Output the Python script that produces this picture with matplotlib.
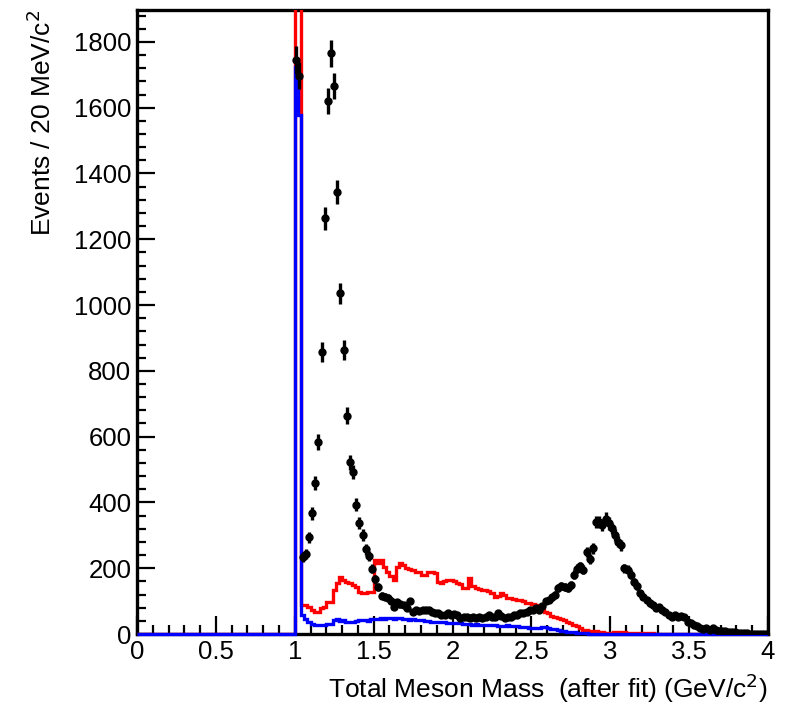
import numpy as np
import matplotlib
matplotlib.use("Agg")
import matplotlib.pyplot as plt

plt.rcParams['font.family'] = ['Liberation Sans', 'DejaVu Sans']

# bin edges: 20 MeV bins from 0 to 4 GeV
edges = np.round(np.arange(0, 4.0001, 0.02), 2)

# black data points, bin centres 1.01 .. 3.99
data_vals = [
    1745, 1697, 235, 243, 294, 367, 458, 585, 857, 1264,
    1621, 1765, 1666, 1344, 1036, 863, 663, 522, 493, 393,
    338, 301, 257, 237, 199, 166, 144, 116, 113, 110,
    101, 83, 97, 90, 88, 78, 100, 68, 72, 70,
    72, 72, 73, 68, 63, 63, 58, 58, 63, 58,
    60, 58, 48, 51, 53, 48, 53, 48, 53, 48,
    53, 58, 53, 53, 65, 55, 48, 53, 53, 58,
    58, 63, 63, 68, 72, 72, 78, 72, 85, 100,
    103, 112, 119, 139, 146, 144, 139, 150, 180, 198,
    206, 195, 250, 228, 260, 341, 341, 331, 351, 336,
    321, 301, 281, 270, 200, 195, 180, 159, 145, 124,
    114, 103, 93, 88, 80, 83, 73, 68, 58, 53,
    58, 53, 55, 53, 38, 33, 28, 23, 18, 15,
    18, 13, 18, 13, 8, 8, 8, 6, 5, 5,
    3, 3, 2, 2, 1, 1, 1, 0, 0, 0,
]
data_x = np.round(1.01 + 0.02 * np.arange(len(data_vals)), 2)

# red histogram, bins starting at 1.00 (zero below)
red_vals = [
    2400, 2400, 88, 88, 82, 72, 68, 68, 80, 83,
    98, 98, 134, 154, 174, 165, 159, 154, 150, 144,
    128, 124, 124, 129, 129, 225, 215, 225, 205, 190,
    176, 164, 204, 215, 210, 200, 198, 195, 190, 189,
    179, 180, 189, 190, 185, 159, 154, 160, 164, 164,
    160, 154, 152, 139, 140, 169, 145, 139, 138, 134,
    134, 132, 124, 113, 115, 124, 120, 108, 108, 106,
    103, 103, 100, 95, 93, 90, 88, 82, 73, 66,
    63, 55, 53, 48, 46, 43, 38, 33, 28, 23,
    18, 12, 12, 10, 8, 8, 6, 5, 4, 4,
    4, 5, 6, 6, 5, 4, 3, 3, 2, 2,
    3, 2, 2, 2, 1, 1, 1, 1, 1, 1,
]

# blue histogram, bins starting at 1.00 (zero below)
blue_vals = [
    1725, 1578, 58, 45, 37, 30, 27, 27, 27, 28,
    30, 30, 43, 45, 40, 43, 38, 37, 36, 40,
    42, 44, 43, 40, 45, 45, 47, 48, 46, 50,
    48, 45, 48, 50, 47, 45, 44, 46, 43, 42,
    44, 40, 40, 38, 38, 37, 36, 35, 34, 33,
    34, 33, 32, 30, 31, 29, 28, 29, 28, 27,
    26, 28, 27, 26, 24, 25, 24, 28, 25, 24,
    23, 22, 21, 20, 19, 18, 18, 17, 20, 22,
    18, 16, 14, 12, 10, 8, 7, 6, 5, 4,
    3, 2, 2, 1, 1, 1,
]

nbins = len(edges) - 1
red = np.zeros(nbins)
red[50:50 + len(red_vals)] = red_vals
blue = np.zeros(nbins)
blue[50:50 + len(blue_vals)] = blue_vals

fig = plt.figure(figsize=(8.02, 7.23), dpi=100)
ax = fig.add_axes([137/802, 89/723, 631/802, 624/723])

ax.stairs(red, edges, color='#ff0000', lw=2.4, baseline=None, zorder=3)
ax.stairs(blue, edges, color='#0000ff', lw=2.4, baseline=None, zorder=3.1,
          clip_on=False)
ax.errorbar(data_x, data_vals, yerr=np.sqrt(data_vals), fmt='o', color='black',
            ms=5, elinewidth=2.4, capsize=0, zorder=5)

ax.set_xlim(0, 4)
ax.set_ylim(0, 1897)
ax.set_xticks(np.arange(0, 4.01, 0.5))
ax.set_xticklabels(['0', '0.5', '1', '1.5', '2', '2.5', '3', '3.5', '4'])
ax.set_xticks(np.arange(0, 4.01, 0.1), minor=True)
ax.set_yticks(np.arange(0, 1801, 200))
ax.set_yticks(np.arange(0, 1897, 40), minor=True)

ax.tick_params(which='both', direction='in', top=False, right=False, width=1.6,
               labelsize=18.5, pad=4)
ax.tick_params(which='major', length=13)
ax.tick_params(which='minor', length=6.5)
for s in ax.spines.values():
    s.set_linewidth(2.4)

fig.text(42/802, 1 - 10/723, 'Events / 20 MeV/c$^2$', rotation=90,
         ha='center', va='top', fontsize=19)
fig.text(768/802, 1 - 688/723, 'Total Meson Mass  (after fit) (GeV/c$^2$)',
         ha='right', va='center', fontsize=19)

fig.savefig('out.png', dpi=100)
